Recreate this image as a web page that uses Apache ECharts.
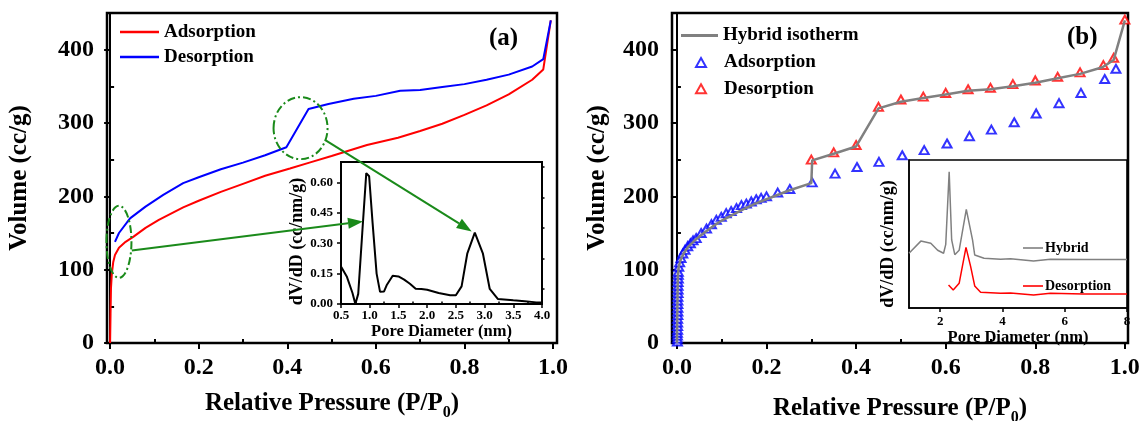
<!DOCTYPE html>
<html>
<head>
<meta charset="utf-8">
<script src="https://cdn.jsdelivr.net/npm/echarts@6/dist/echarts.min.js"></script>
<style>
  html, body { margin: 0; padding: 0; background: #fff; }
  #chart { width: 1143px; height: 421px; }
</style>
</head>
<body>
<div id="chart"></div>
<script>
// ---- panel (a): isotherm ----
const adsPressureA = [0, 0.001, 0.002, 0.004, 0.007, 0.011, 0.02, 0.035, 0.053, 0.08, 0.11, 0.165, 0.2, 0.25, 0.3, 0.35, 0.406, 0.45, 0.5, 0.58, 0.65, 0.7, 0.75, 0.8, 0.85, 0.9, 0.953, 0.978, 0.995];
const adsVolumeA   = [0, 40, 75, 95, 110, 120, 130, 138, 145, 157, 168, 185, 194, 206, 217, 228, 238, 246, 255, 270, 280, 289, 299, 311, 324, 339, 359, 373, 440];
const desPressureA = [0.011, 0.02, 0.045, 0.08, 0.12, 0.165, 0.2, 0.25, 0.3, 0.35, 0.398, 0.448, 0.493, 0.55, 0.6, 0.655, 0.7, 0.75, 0.8, 0.85, 0.9, 0.953, 0.978, 0.995];
const desVolumeA   = [138, 150, 170, 186, 202, 218, 226, 237, 246, 256, 267, 319, 326, 333, 337, 344, 345, 349, 353, 359, 366, 377, 387, 440];

// ---- panel (a) inset: pore size distribution ----
const poreA = [0.5, 0.6, 0.7, 0.75, 0.8, 0.87, 0.94, 0.99, 1.05, 1.12, 1.18, 1.25, 1.3, 1.4, 1.5, 1.6, 1.7, 1.8, 1.9, 2.0, 2.2, 2.4, 2.5, 2.6, 2.7, 2.83, 2.97, 3.09, 3.23, 3.5, 3.7, 3.9, 4.0];
const psdA  = [0.185, 0.136, 0.054, 0.0, 0.05, 0.35, 0.645, 0.63, 0.4, 0.15, 0.06, 0.062, 0.095, 0.139, 0.136, 0.12, 0.1, 0.075, 0.074, 0.07, 0.054, 0.043, 0.043, 0.087, 0.25, 0.352, 0.25, 0.074, 0.025, 0.018, 0.013, 0.008, 0.008];

// ---- panel (b): isotherm points ----
const adsPressureB = [0.001, 0.001, 0.001, 0.001, 0.0015, 0.0015, 0.0015, 0.0015, 0.002, 0.002, 0.002, 0.002, 0.002, 0.002, 0.0025, 0.0025, 0.0025, 0.0025, 0.003, 0.003, 0.003,
  0.004, 0.006, 0.009, 0.013, 0.018, 0.024, 0.03, 0.036, 0.043, 0.054, 0.066, 0.077, 0.088, 0.099, 0.11, 0.121, 0.133, 0.144, 0.155, 0.166, 0.177, 0.188, 0.2,
  0.225, 0.252, 0.302, 0.353, 0.402, 0.451, 0.503, 0.552, 0.603, 0.653, 0.702, 0.753, 0.802, 0.853, 0.902, 0.955, 0.98];
const adsVolumeB = [2, 6, 10, 14, 18, 23, 28, 33, 38, 43, 48, 53, 58, 63, 68, 73, 78, 83, 88, 93, 97,
  104, 110, 116, 122, 127, 132, 136, 140, 143, 150, 156, 162, 168, 172, 177, 180, 184, 188, 190, 193, 196, 198, 200,
  205, 210, 219, 231, 240, 247, 256, 263, 272, 282, 291, 301, 313, 327, 341, 360, 374];
const desPressureB = [0.3, 0.35, 0.4, 0.45, 0.5, 0.55, 0.6, 0.65, 0.7, 0.75, 0.8, 0.85, 0.9, 0.952, 0.975, 1.0];
const desVolumeB   = [250, 260, 270, 322, 332, 336, 341, 346, 348, 353, 358, 363, 369, 379, 389, 441];
const hybPressureB = [0, 0.001, 0.002, 0.004, 0.008, 0.015, 0.025, 0.04, 0.06, 0.08, 0.1, 0.125, 0.15, 0.175, 0.2, 0.25, 0.3, 0.302, 0.35, 0.4, 0.45, 0.5, 0.55, 0.6, 0.65, 0.7, 0.75, 0.8, 0.85, 0.9, 0.95, 0.975, 1.0];
const hybVolumeB   = [0, 50, 90, 104, 113, 122, 131, 140, 150, 159, 167, 175, 183, 190, 196, 208, 218, 249, 258, 268, 320, 329, 334, 339, 344, 346, 350, 355, 361, 367, 376, 386, 440];

// ---- panel (b) inset ----
const poreHybB = [1.0, 1.38, 1.7, 1.92, 2.11, 2.18, 2.29, 2.37, 2.47, 2.61, 2.84, 3.04, 3.11, 3.41, 3.94, 4.26, 5.0, 5.54, 6.6, 8.0];
const psdHybB  = [0.37, 0.452, 0.437, 0.39, 0.37, 0.43, 0.92, 0.46, 0.36, 0.39, 0.667, 0.46, 0.358, 0.336, 0.329, 0.333, 0.318, 0.329, 0.327, 0.327];
const poreDesB = [2.27, 2.42, 2.61, 2.83, 2.98, 3.11, 3.3, 3.94, 4.26, 5.0, 5.54, 6.6, 8.0];
const psdDesB  = [0.155, 0.122, 0.167, 0.41, 0.28, 0.149, 0.106, 0.099, 0.102, 0.088, 0.099, 0.095, 0.095];

// ---- ticks ----
const pressureTicks = [0, 0.2, 0.4, 0.6, 0.8, 1.0];
const pressureMinor = [0.1, 0.3, 0.5, 0.7, 0.9];
const volumeTicks = [0, 100, 200, 300, 400];
const volumeMinor = [50, 150, 250, 350];
const poreTicksA = [0.5, 1, 1.5, 2, 2.5, 3, 3.5, 4];
const poreMinorA = [0.75, 1.25, 1.75, 2.25, 2.75, 3.25, 3.75];
const psdTicksA = [0, 0.15, 0.3, 0.45, 0.6];
const psdMinorA = [0.075, 0.225, 0.375, 0.525, 0.675];
const poreTicksB = [2, 4, 6, 8];

const legendLabels = {
  aAds: 'Adsorption', aDes: 'Desorption',
  bHyb: 'Hybrid isotherm', bAds: 'Adsorption', bDes: 'Desorption',
  iHyb: 'Hybrid', iDes: 'Desorption'
};

const FONT = 'Liberation Serif';
const GREEN = '#1a8a1a';
const txt = size => ({ fontFamily: FONT, fontWeight: 'bold', fontSize: size, color: '#000' });
const pairs = (xs, ys) => xs.map((x, i) => [x, ys[i]]);

const chart = echarts.init(document.getElementById('chart'));

function mainAxis(gridIndex, min, max, ticks, fmt, name, nameGap, labelSize, margin) {
  return {
    gridIndex, type: 'value', min, max,
    axisLine: { show: true, lineStyle: { color: '#000', width: 2 } },
    axisTick: { show: true, customValues: ticks, length: 6, lineStyle: { color: '#000', width: 2 } },
    axisLabel: { customValues: ticks, formatter: fmt, margin, ...txt(labelSize) },
    splitLine: { show: false },
    name, nameLocation: 'middle', nameGap,
    nameTextStyle: {
      ...txt(25),
      rich: { s: { fontFamily: FONT, fontWeight: 'bold', fontSize: 16, color: '#000', padding: [18, 0, 0, 0] } }
    }
  };
}
function tickOnly(gridIndex, min, max, values, length, width) {
  return {
    gridIndex, type: 'value', min, max,
    axisLine: { show: false },
    axisTick: { show: true, customValues: values, length, lineStyle: { color: '#000', width: width || 2 } },
    axisLabel: { show: false },
    splitLine: { show: false }
  };
}
const thinTicks = values => ({ customValues: values, length: 4, lineStyle: { color: '#000', width: 1.5 } });

const xAxis = [
  mainAxis(0, -0.007, 1.009, pressureTicks, v => v.toFixed(1), 'Relative Pressure (P/P{s|0})', 44, 24, 13),
  tickOnly(0, -0.007, 1.009, pressureMinor, 4),
  mainAxis(1, -0.011, 1.007, pressureTicks, v => v.toFixed(1), 'Relative Pressure (P/P{s|0})', 49, 24, 13),
  tickOnly(1, -0.011, 1.007, pressureMinor, 4),
  Object.assign(mainAxis(2, 0.5, 4.0, poreTicksA, v => v.toFixed(1), 'Pore Diameter (nm)', 19, 13, 5),
    { nameTextStyle: txt(16.5), axisTick: thinTicks(poreTicksA) }),
  tickOnly(2, 0.5, 4.0, poreMinorA, 2.5, 1.5),
  Object.assign(mainAxis(3, 1, 8, poreTicksB, v => String(v), 'Pore Diameter (nm)', 17, 13, 7),
    { nameTextStyle: txt(16.5), axisLine: { lineStyle: { color: '#000', width: 1.5 } }, axisTick: thinTicks(poreTicksB) })
];

const yAxis = [
  mainAxis(0, 0, 450, volumeTicks, v => String(v), 'Volume (cc/g)', 75, 24, 13),
  tickOnly(0, 0, 450, volumeMinor, 4),
  mainAxis(1, 0, 450, volumeTicks, v => String(v), 'Volume (cc/g)', 62, 24, 13),
  tickOnly(1, 0, 450, volumeMinor, 4),
  Object.assign(mainAxis(2, 0, 0.7, psdTicksA, v => v.toFixed(2), 'dV/dD (cc/nm/g)', 35, 13, 8),
    { nameTextStyle: { ...txt(18), padding: [0, 17, 0, 0] }, axisTick: thinTicks(psdTicksA) }),
  tickOnly(2, 0, 0.7, psdMinorA, 2.5, 1.5),
  {
    gridIndex: 3, type: 'value', min: 0, max: 1,
    axisLine: { show: true, lineStyle: { color: '#000', width: 1.5 } },
    axisTick: { show: false }, axisLabel: { show: false }, splitLine: { show: false },
    name: 'dV/dD (cc/nm/g)', nameLocation: 'middle', nameGap: 12,
    nameTextStyle: { ...txt(18), padding: [0, 20, 0, 0] }
  }
];

const lineSeries = (name, xi, yi, data, color, width, z) => ({
  name, type: 'line', xAxisIndex: xi, yAxisIndex: yi, data,
  symbol: 'none', showSymbol: false, z: z || 2,
  lineStyle: { color, width }, itemStyle: { color }
});
const triSeries = (name, data, color) => ({
  name, type: 'scatter', xAxisIndex: 2, yAxisIndex: 2, data,
  symbol: 'emptyTriangle', symbolSize: [9, 8],
  itemStyle: { color, borderColor: color, borderWidth: 1.7 }
});
const legendBase = { orient: 'vertical', padding: 0, selectedMode: false, formatter: n => legendLabels[n] };

chart.setOption({
  animation: false,
  backgroundColor: '#fff',
  title: [
    { text: '(a)', left: 489, top: 26, padding: 0, textStyle: txt(25) },
    { text: '(b)', left: 1067, top: 25, padding: 0, textStyle: txt(25) }
  ],
  grid: [
    { left: 107, top: 13, width: 450, height: 330, show: true, borderColor: '#000', borderWidth: 2.5, outerBoundsMode: 'none' },
    { left: 672, top: 13, width: 456, height: 330, show: true, borderColor: '#000', borderWidth: 2.5, outerBoundsMode: 'none' },
    { left: 341, top: 162, width: 201, height: 142, show: true, borderColor: '#000', borderWidth: 2, outerBoundsMode: 'none' },
    { left: 909, top: 160, width: 218, height: 148, show: true, borderColor: '#000', borderWidth: 1.5, outerBoundsMode: 'none' }
  ],
  legend: [
    {
      ...legendBase, data: ['aAds', 'aDes'], icon: 'rect', left: 120, top: 22.5,
      itemWidth: 39, itemHeight: 2.5, itemGap: 6,
      textStyle: { ...txt(19), lineHeight: 19 }
    },
    {
      ...legendBase, data: ['bHyb'], icon: 'rect', left: 681, top: 26,
      itemWidth: 37, itemHeight: 3,
      textStyle: { ...txt(19), lineHeight: 19 }
    },
    {
      ...legendBase, data: ['bAds', 'bDes'], left: 695, top: 53,
      itemWidth: 10, itemHeight: 9, itemGap: 7.3,
      textStyle: { ...txt(19), lineHeight: 19, padding: [0, 0, 0, 13] }
    },
    {
      ...legendBase, data: ['iHyb', 'iDes'], icon: 'rect', left: 1023, top: 241,
      itemWidth: 20, itemHeight: 1.6, itemGap: 24,
      textStyle: { ...txt(14), lineHeight: 14, padding: [0, 0, 0, -3] }
    }
  ],
  xAxis, yAxis,
  series: [
    lineSeries('aAds', 0, 0, pairs(adsPressureA, adsVolumeA), '#ff0000', 2),
    lineSeries('aDes', 0, 0, pairs(desPressureA, desVolumeA), '#0000ff', 2),
    lineSeries('psdA', 4, 4, pairs(poreA, psdA), '#000', 2),
    triSeries('bAds', pairs(adsPressureB, adsVolumeB), '#0000ff'),
    triSeries('bDes', pairs(desPressureB, desVolumeB), '#ff0000'),
    lineSeries('bHyb', 2, 2, pairs(hybPressureB, hybVolumeB), '#808080', 2.5, 5),
    lineSeries('iHyb', 6, 6, pairs(poreHybB, psdHybB), '#808080', 1.5),
    lineSeries('iDes', 6, 6, pairs(poreDesB, psdDesB), '#ff0000', 1.5)
  ]
});

// ---- green call-outs: loops on the isotherm pointing to inset peaks ----
const loopSmall = { at: [0.02, 138], rx: 12.5, ry: 36 };
const loopLarge = { at: [0.43, 293], rx: 27, ry: 31 };
const arrowSmall = { from: [0.049, 126], to: [0.883, 0.407] };
const arrowLarge = { from: [0.485, 277], to: [2.776, 0.358] };

const px = (si, pt) => chart.convertToPixel({ seriesIndex: si }, pt);

function loop(l) {
  const c = px(0, l.at);
  return {
    type: 'ellipse', z: 100,
    shape: { cx: c[0], cy: c[1], rx: l.rx, ry: l.ry },
    style: { fill: 'none', stroke: GREEN, lineWidth: 2, lineDash: [8, 3, 2, 3] }
  };
}
function arrow(a) {
  const f = px(0, a.from), t = px(2, a.to);
  const dx = t[0] - f[0], dy = t[1] - f[1], len = Math.hypot(dx, dy);
  const ux = dx / len, uy = dy / len, hl = 15, hw = 5.5;
  const bx = t[0] - ux * hl, by = t[1] - uy * hl;
  return [
    { type: 'line', z: 100, shape: { x1: f[0], y1: f[1], x2: bx, y2: by }, style: { stroke: GREEN, lineWidth: 2 } },
    { type: 'polygon', z: 100, shape: { points: [t, [bx - uy * hw, by + ux * hw], [bx + uy * hw, by - ux * hw]] }, style: { fill: GREEN } }
  ];
}

chart.setOption({
  graphic: [loop(loopSmall), loop(loopLarge), ...arrow(arrowSmall), ...arrow(arrowLarge)]
});
</script>
</body>
</html>
